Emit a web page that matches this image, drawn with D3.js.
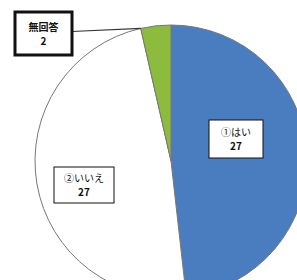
<!DOCTYPE html>
<meta charset="UTF-8">
<script src="https://cdnjs.cloudflare.com/ajax/libs/d3/7.4.4/d3.min.js"></script>
<style>
  body { margin: 0; background: #fff; }
</style>
<svg id="chart" width="297" height="280"></svg>
<script>
    // answers
    let categories = ["①はい", "②いいえ", "無回答"];
    let counts = [27, 27, 2];
    let colors = ["#4a7cc0", "#ffffff", "#8dbb3e"];

    let svg = d3.select("#chart");
    let cx = 171, cy = 161, r = 136;

    let pie = d3.pie().sort(null).value(function (d) { return d.v; });
    let rows = categories.map(function (c, i) { return {name: c, v: counts[i], color: colors[i]}; });
    let arcs = pie(rows);
    let arc = d3.arc().innerRadius(0).outerRadius(r);

    let g = svg.append("g").attr("transform", "translate(" + cx + "," + cy + ")");
    g.selectAll("path")
        .data(arcs)
        .enter()
        .append("path")
        .attr("d", arc)
        .style("fill", function (d) { return d.data.color; })
        .style("stroke", "#777")
        .style("stroke-width", 1);

    // label boxes (position per slice)
    let boxes = [
        {x: 209, y: 120, w: 54, h: 38, bold: false, sw: 1},
        {x: 54, y: 167, w: 60, h: 36, bold: false, sw: 1},
        {x: 15, y: 12, w: 57, h: 43, bold: true, sw: 3}
    ];

    // leader line for the small slice
    let small = arcs[2];
    let ang = small.startAngle;
    svg.append("line")
        .attr("x1", boxes[2].x + boxes[2].w)
        .attr("y1", boxes[2].y + boxes[2].h / 2 - 2)
        .attr("x2", cx + Math.sin(ang) * r)
        .attr("y2", cy - Math.cos(ang) * r)
        .style("stroke", "#333")
        .style("stroke-width", 1.2);

    arcs.forEach(function (d, i) {
        let b = boxes[i];
        svg.append("rect")
            .attr("x", b.x).attr("y", b.y)
            .attr("width", b.w).attr("height", b.h)
            .style("fill", "#fff")
            .style("stroke", "#111")
            .style("stroke-width", b.sw);
        svg.append("text")
            .attr("x", b.x + b.w / 2)
            .attr("y", b.y + b.h / 2 - 3)
            .style("font-family", "Noto Sans CJK JP")
            .style("font-size", "10px")
            .style("font-weight", b.bold ? "bold" : "normal")
            .style("text-anchor", "middle")
            .style("fill", "#111")
            .text(d.data.name);
        svg.append("text")
            .attr("x", b.x + b.w / 2)
            .attr("y", b.y + b.h / 2 + 11)
            .style("font-family", "Noto Sans CJK JP")
            .style("font-size", "10px")
            .style("font-weight", "bold")
            .style("text-anchor", "middle")
            .style("fill", "#111")
            .text(d.data.v);
    });
</script>
